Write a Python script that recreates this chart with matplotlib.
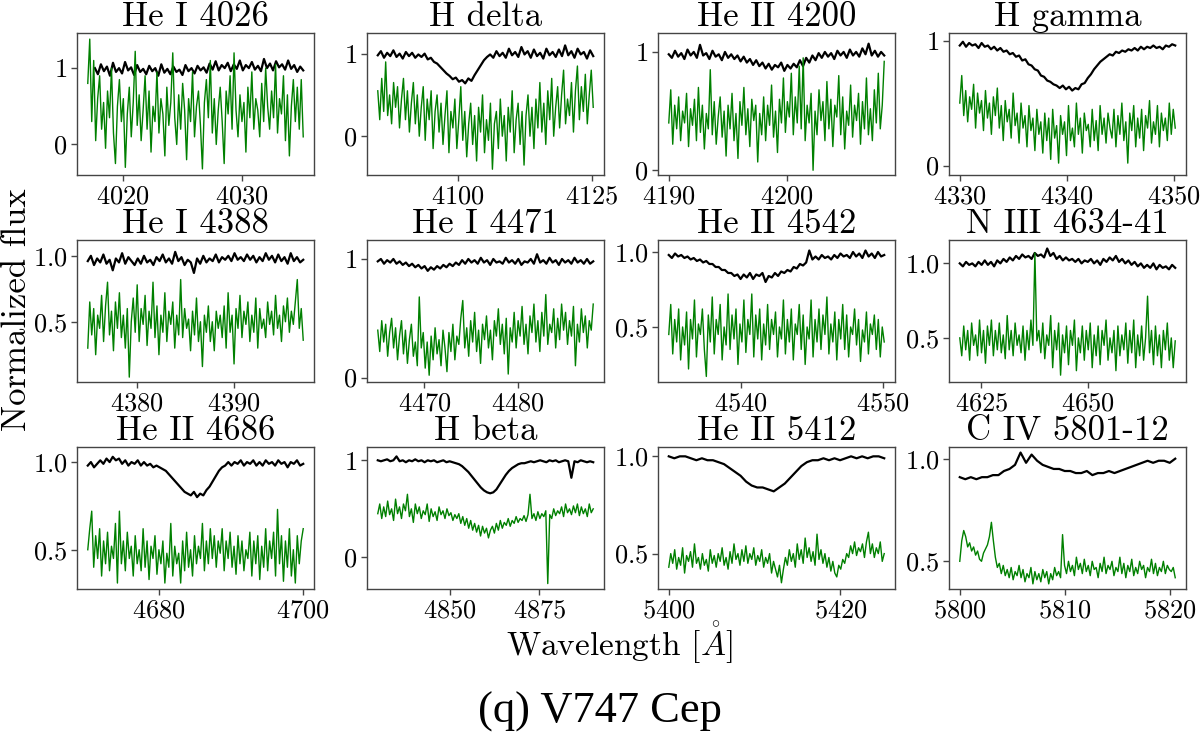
import numpy as np
import matplotlib
matplotlib.use("Agg")
import matplotlib.pyplot as plt
from matplotlib.ticker import MultipleLocator

plt.rcParams['font.family'] = ['cmr10', 'DejaVu Serif']
plt.rcParams['mathtext.fontset'] = 'cm'
plt.rcParams['axes.unicode_minus'] = False
plt.rcParams['axes.formatter.use_mathtext'] = True

titles = ["He I 4026", "H delta", "He II 4200", "H gamma",
          "He I 4388", "He I 4471", "He II 4542", "N III 4634-41",
          "He II 4686", "H beta", "He II 5412", "C IV 5801-12"]

wl_start = [4017.0, 4085.0, 4190.0, 4330.0, 4374.9, 4465.0, 4534.9, 4619.9, 4670.1, 4829.9, 5400.0, 5800.0]
wl_start_black = [4017.6, 4085.0, 4190.0, 4330.0, 4374.9, 4465.0, 4534.9, 4619.9, 4670.1, 4829.9, 5400.0, 5800.0]
wl_end = [4035.2, 4125.2, 4208.2, 4350.1, 4397.1, 4488.1, 4550.1, 4670.5, 4700.0, 4890.0, 5425.1, 5820.5]

black_1 = [1.00, 0.92, 1.05, 0.96, 1.02, 0.90, 1.07, 0.95, 1.00, 0.93,
           1.08, 0.97, 1.01, 0.91, 1.04, 0.95, 0.99, 0.92, 1.03, 0.96,
           1.00, 0.90, 1.05, 0.94, 0.99, 0.92, 1.02, 0.95, 0.98, 0.91,
           1.04, 0.96, 1.00, 0.93, 1.03, 0.97, 1.01, 0.94, 1.06, 0.98,
           1.09, 0.97, 1.04, 1.00, 1.07, 0.96, 1.05, 0.99, 1.10, 0.97,
           1.04, 1.00, 1.08, 0.98, 1.03, 0.96, 1.12, 1.00, 1.06, 0.97,
           1.09, 1.01, 1.05, 0.98, 1.10, 0.99, 1.04, 0.95, 1.02, 0.97]
green_1 = [0.80, 1.38, 0.30, 1.10, 0.05, 0.60, 0.90, 0.20, 0.55, -0.05,
           0.70, 0.35, 1.00, 0.15, -0.25, 0.50, 0.85, 0.30, 0.60, -0.30,
           0.40, 0.75, 0.10, 0.55, 1.22, 0.25, 0.65, 0.05, 0.45, 0.90,
           0.20, 0.70, -0.10, 0.50, 0.30, 0.95, 0.15, 0.60, 0.40, -0.15,
           0.75, 0.25, 0.55, 1.20, 0.35, 0.00, 0.65, 0.20, 0.80, 0.45,
           -0.20, 0.60, 0.30, 0.95, 0.10, 0.50, 0.70, 0.25, -0.32, 0.55,
           0.85, 0.35, 1.10, 0.15, 0.60, 0.00, 0.45, 0.75, 0.30, -0.25,
           0.70, 0.40, 0.90, 0.20, 1.20, 0.45, 0.10, 0.65, 0.30, 0.55,
           -0.10, 0.75, 0.35, 0.95, 0.20, 0.60, 0.45, 0.10, 0.80, 0.30,
           1.00, 0.50, 0.20, 0.70, 0.35, 1.05, 0.15, 0.60, 0.40, 0.90,
           0.05, 0.65, -0.15, 0.50, 0.85, 0.30, 0.75, 0.20, 0.85, 0.10]

black_2 = [0.98, 1.03, 0.95, 1.01, 0.97, 1.04, 0.96, 1.00, 0.94, 1.02,
           0.97, 1.01, 0.95, 0.99, 0.96, 1.00, 0.93, 0.95, 0.90, 0.88,
           0.84, 0.80, 0.76, 0.73, 0.69, 0.71, 0.66, 0.68, 0.64, 0.70,
           0.67, 0.74, 0.80, 0.86, 0.92, 0.96, 0.99, 0.95, 1.03, 0.97,
           1.01, 0.95, 1.06, 0.98, 1.02, 0.96, 1.08, 0.99, 1.03, 0.95,
           1.05, 0.97, 1.01, 0.94, 1.06, 0.98, 1.02, 0.96, 1.05, 0.97,
           1.10, 0.98, 1.03, 0.95, 1.06, 0.99, 1.02, 0.94, 1.04, 0.97]
green_2 = [0.55, 0.20, 0.70, 0.30, 0.90, 0.25, 0.50, 0.15, 0.65, 0.35,
           0.60, 0.10, 0.45, 0.70, 0.20, 0.55, 0.05, 0.40, 0.65, 0.15,
           0.50, 0.00, 0.35, 0.60, -0.05, 0.45, 0.20, 0.55, -0.15, 0.30,
           0.50, 0.05, 0.40, -0.10, 0.25, 0.55, -0.20, 0.30, 0.10, 0.45,
           -0.15, 0.20, 0.60, -0.05, 0.30, -0.25, 0.15, 0.40, -0.10, 0.25,
           -0.30, 0.35, 0.05, 0.50, -0.20, 0.20, -0.05, 0.40, -0.40, 0.15,
           0.30, -0.15, 0.45, 0.00, 0.25, -0.30, 0.35, 0.05, 0.55, -0.20,
           0.20, 0.40, -0.10, 0.30, -0.35, 0.25, 0.50, 0.00, 0.35, -0.15,
           0.45, 0.10, 0.65, 0.05, 0.40, -0.10, 0.55, 0.20, 0.70, 0.00,
           0.35, 0.60, 0.10, 0.50, 0.80, 0.15, 0.45, 0.25, 0.65, 0.05,
           0.55, 0.85, 0.20, 0.60, 0.30, 0.75, 0.15, 0.50, 0.80, 0.35]

black_3 = [0.98, 0.95, 1.01, 0.96, 0.99, 0.94, 1.02, 0.97, 1.00, 0.95,
           1.06, 0.97, 0.99, 0.94, 1.01, 0.96, 0.98, 0.93, 1.00, 0.95,
           0.98, 0.94, 0.97, 0.92, 0.96, 0.91, 0.94, 0.89, 0.93, 0.88,
           0.91, 0.86, 0.90, 0.85, 0.89, 0.87, 0.91, 0.84, 0.89, 0.86,
           0.90, 0.87, 0.93, 0.88, 0.95, 0.91, 0.97, 0.93, 0.99, 0.95,
           1.00, 0.96, 0.99, 0.94, 1.01, 0.97, 1.00, 0.95, 1.02, 0.97,
           1.00, 0.96, 1.03, 0.98, 1.07, 0.97, 1.01, 0.96, 1.00, 0.97]
green_3 = [0.40, 0.68, 0.22, 0.55, 0.35, 0.62, 0.25, 0.50, 0.40, 0.65,
           0.20, 0.52, 0.38, 0.60, 0.25, 0.70, 0.32, 0.55, 0.18, 0.48,
           0.35, 0.85, 0.30, 0.58, 0.22, 0.45, 0.62, 0.28, 0.50, 0.12,
           0.55, 0.35, 0.65, 0.25, 0.48, 0.10, 0.58, 0.38, 0.70, 0.30,
           0.52, 0.20, 0.60, 0.42, 0.55, 0.07, 0.48, 0.30, 0.62, 0.25,
           0.55, 0.38, 0.72, 0.28, 0.50, 0.15, 0.60, 0.40, 0.78, 0.32,
           0.58, 0.45, 0.82, 0.30, 0.62, 0.40, 0.88, 0.35, 0.95, 0.25,
           0.55, 0.40, 0.65, 0.00, 0.50, 0.30, 0.68, 0.42, 0.58, 0.25,
           0.75, 0.35, 0.60, 0.20, 0.55, 0.45, 0.80, 0.30, 0.62, 0.18,
           0.50, 0.38, 0.72, 0.28, 0.55, 0.42, 0.65, 0.22, 0.58, 0.35,
           0.78, 0.30, 0.52, 0.25, 0.68, 0.40, 0.82, 0.35, 0.55, 0.92]

black_4 = [0.96, 0.99, 0.95, 0.98, 0.96, 0.97, 0.94, 0.98, 0.95, 0.96,
           0.93, 0.95, 0.92, 0.94, 0.91, 0.92, 0.89, 0.90, 0.87, 0.88,
           0.84, 0.85, 0.81, 0.80, 0.77, 0.76, 0.72, 0.71, 0.68, 0.67,
           0.65, 0.64, 0.62, 0.64, 0.61, 0.63, 0.60, 0.62, 0.61, 0.65,
           0.66, 0.70, 0.73, 0.77, 0.80, 0.83, 0.85, 0.87, 0.89, 0.88,
           0.91, 0.90, 0.92, 0.91, 0.93, 0.92, 0.94, 0.92, 0.95, 0.93,
           0.95, 0.94, 0.96, 0.94, 0.95, 0.93, 0.96, 0.95, 0.97, 0.96]
green_4 = [0.50, 0.72, 0.40, 0.60, 0.35, 0.55, 0.45, 0.65, 0.30, 0.58,
           0.42, 0.52, 0.28, 0.60, 0.38, 0.50, 0.25, 0.55, 0.40, 0.62,
           0.30, 0.48, 0.20, 0.52, 0.35, 0.45, 0.22, 0.58, 0.32, 0.42,
           0.18, 0.50, 0.30, 0.40, 0.15, 0.48, 0.28, 0.38, 0.12, 0.45,
           0.25, 0.35, 0.10, 0.42, 0.20, 0.38, 0.05, 0.45, 0.22, 0.32,
           0.02, 0.40, 0.25, 0.35, 0.08, 0.48, 0.20, 0.30, 0.15, 0.50,
           0.25, 0.38, 0.10, 0.42, 0.28, 0.33, 0.15, 0.45, 0.20, 0.36,
           0.12, 0.48, 0.25, 0.38, 0.18, 0.42, 0.30, 0.22, 0.45, 0.15,
           0.40, 0.25, 0.50, 0.20, 0.35, 0.02, 0.42, 0.28, 0.48, 0.15,
           0.38, 0.22, 0.45, 0.12, 0.40, 0.30, 0.52, 0.18, 0.35, 0.25,
           0.48, 0.15, 0.42, 0.28, 0.38, 0.20, 0.50, 0.25, 0.45, 0.30]

black_5 = [0.96, 1.00, 0.93, 0.98, 0.95, 1.01, 0.94, 0.97, 0.89, 0.98,
           0.95, 1.02, 0.94, 0.99, 0.96, 0.93, 0.98, 0.94, 1.00, 0.95,
           0.97, 0.93, 0.99, 0.96, 1.01, 0.95, 0.98, 0.94, 1.03, 0.96,
           0.99, 0.93, 0.97, 0.95, 0.87, 0.98, 0.94, 1.00, 0.95, 0.98,
           0.96, 1.01, 0.95, 0.99, 0.97, 1.00, 0.96, 1.02, 0.97, 0.99,
           0.96, 1.01, 0.97, 1.00, 0.95, 0.99, 0.96, 1.02, 0.97, 1.00,
           0.95, 1.01, 0.96, 0.99, 0.94, 1.02, 0.96, 0.99, 0.95, 0.97]
green_5 = [0.30, 0.65, 0.40, 0.60, 0.25, 0.55, 0.45, 0.70, 0.35, 0.62,
           0.80, 0.40, 0.58, 0.28, 0.65, 0.45, 0.72, 0.38, 0.55, 0.30,
           0.60, 0.08, 0.50, 0.68, 0.42, 0.78, 0.35, 0.60, 0.48, 0.70,
           0.32, 0.58, 0.45, 0.80, 0.38, 0.62, 0.25, 0.55, 0.42, 0.72,
           0.35, 0.58, 0.48, 0.65, 0.30, 0.55, 0.40, 0.82, 0.38, 0.60,
           0.45, 0.52, 0.28, 0.58, 0.40, 0.68, 0.35, 0.50, 0.16, 0.55,
           0.42, 0.62, 0.35, 0.50, 0.28, 0.58, 0.45, 0.55, 0.38, 0.62,
           0.30, 0.72, 0.42, 0.55, 0.18, 0.60, 0.45, 0.70, 0.38, 0.58,
           0.48, 0.65, 0.35, 0.55, 0.42, 0.68, 0.30, 0.60, 0.45, 0.52,
           0.38, 0.65, 0.48, 0.58, 0.40, 0.70, 0.45, 0.55, 0.35, 0.62,
           0.50, 0.68, 0.42, 0.58, 0.48, 0.65, 0.82, 0.45, 0.60, 0.36]

black_6 = [0.98, 1.00, 0.96, 0.99, 0.97, 1.00, 0.96, 0.98, 0.95, 0.97,
           0.94, 0.96, 0.93, 0.95, 0.92, 0.94, 0.90, 0.93, 0.91, 0.94,
           0.92, 0.95, 0.93, 0.96, 0.94, 0.97, 0.95, 0.99, 0.96, 1.00,
           0.97, 0.99, 0.96, 1.01, 0.97, 0.99, 0.95, 1.00, 0.97, 0.98,
           0.96, 1.01, 0.97, 0.99, 0.96, 1.00, 0.95, 0.98, 0.97, 1.00,
           0.96, 1.04, 0.97, 0.99, 0.96, 1.01, 0.97, 0.99, 0.95, 1.00,
           0.97, 0.99, 0.96, 1.01, 0.97, 0.99, 0.96, 1.00, 0.96, 0.98]
green_6 = [0.40, 0.22, 0.48, 0.30, 0.45, 0.18, 0.38, 0.50, 0.25, 0.42,
           0.15, 0.35, 0.48, 0.20, 0.40, 0.12, 0.32, 0.45, 0.18, 0.30,
           0.10, 0.68, 0.25, 0.38, 0.08, 0.30, 0.02, 0.35, 0.15, 0.42,
           0.20, 0.32, 0.10, 0.40, 0.25, 0.05, 0.38, 0.22, 0.45, 0.15,
           0.35, 0.28, 0.50, 0.65, 0.25, 0.42, 0.18, 0.48, 0.30, 0.55,
           0.22, 0.40, 0.12, 0.45, 0.32, 0.52, 0.25, 0.40, 0.15, 0.48,
           0.35, 0.58, 0.28, 0.45, 0.20, 0.50, 0.03, 0.42, 0.30, 0.55,
           0.25, 0.48, 0.35, 0.60, 0.28, 0.45, 0.20, 0.52, 0.38, 0.62,
           0.30, 0.48, 0.22, 0.55, 0.35, 0.70, 0.28, 0.45, 0.38, 0.58,
           0.25, 0.50, 0.32, 0.62, 0.40, 0.55, 0.28, 0.48, 0.35, 0.60,
           0.10, 0.45, 0.30, 0.58, 0.38, 0.52, 0.25, 0.48, 0.40, 0.62]

black_7 = [0.98, 0.96, 0.99, 0.97, 0.98, 0.96, 0.97, 0.95, 0.96, 0.94,
           0.95, 0.93, 0.94, 0.92, 0.92, 0.90, 0.90, 0.88, 0.88, 0.86,
           0.86, 0.84, 0.85, 0.82, 0.85, 0.83, 0.86, 0.82, 0.85, 0.84,
           0.86, 0.80, 0.84, 0.83, 0.86, 0.84, 0.87, 0.86, 0.88, 0.87,
           0.90, 0.89, 0.92, 0.91, 0.93, 1.01, 0.95, 0.97, 0.95, 0.98,
           0.96, 0.97, 0.95, 0.98, 0.96, 0.99, 0.97, 0.98, 0.96, 1.00,
           0.97, 0.99, 0.96, 1.01, 0.97, 0.99, 0.96, 1.00, 0.97, 0.98]
green_7 = [0.45, 0.65, 0.32, 0.55, 0.40, 0.62, 0.28, 0.50, 0.38, 0.60,
           0.22, 0.55, 0.42, 0.68, 0.30, 0.52, 0.45, 0.62, 0.35, 0.17,
           0.58, 0.40, 0.70, 0.32, 0.55, 0.45, 0.65, 0.28, 0.50, 0.38,
           0.72, 0.35, 0.58, 0.42, 0.62, 0.25, 0.52, 0.40, 0.68, 0.33,
           0.55, 0.45, 0.72, 0.30, 0.58, 0.42, 0.62, 0.28, 0.52, 0.38,
           0.65, 0.35, 0.55, 0.45, 0.60, 0.30, 0.50, 0.42, 0.68, 0.32,
           0.55, 0.40, 0.62, 0.28, 0.52, 0.45, 0.65, 0.35, 0.58, 0.25,
           0.50, 0.42, 0.68, 0.30, 0.55, 0.40, 0.62, 0.35, 0.58, 0.45,
           0.70, 0.32, 0.52, 0.40, 0.60, 0.28, 0.55, 0.42, 0.65, 0.35,
           0.58, 0.30, 0.50, 0.45, 0.62, 0.38, 0.55, 0.27, 0.48, 0.40,
           0.60, 0.32, 0.52, 0.45, 0.58, 0.35, 0.55, 0.30, 0.50, 0.40]

black_8 = [1.00, 0.98, 1.01, 0.99, 1.00, 0.98, 1.01, 0.99, 1.02, 0.99,
           1.01, 0.98, 1.02, 1.00, 1.03, 1.01, 1.04, 1.02, 1.05, 1.03,
           1.06, 1.04, 1.05, 1.03, 1.07, 1.05, 1.06, 1.04, 1.10, 1.05,
           1.07, 1.03, 1.05, 1.02, 1.04, 1.02, 1.03, 1.01, 1.03, 1.00,
           1.02, 1.01, 1.03, 1.00, 1.02, 0.99, 1.03, 1.01, 1.04, 1.02,
           1.05, 1.01, 1.03, 1.00, 1.02, 0.99, 1.01, 0.98, 1.00, 0.97,
           0.99, 0.97, 1.00, 0.96, 0.99, 0.97, 0.98, 0.96, 0.99, 0.97]
green_8 = [0.50, 0.38, 0.58, 0.42, 0.55, 0.35, 0.60, 0.45, 0.52, 0.38,
           0.62, 0.40, 0.55, 0.33, 0.58, 0.45, 0.62, 0.38, 0.55, 0.42,
           0.60, 0.40, 0.52, 0.36, 0.65, 0.42, 0.55, 0.38, 0.60, 0.45,
           0.52, 0.40, 0.58, 0.35, 0.55, 0.42, 0.62, 0.45, 1.07, 0.48,
           0.55, 0.40, 0.60, 0.36, 0.52, 0.45, 0.65, 0.30, 0.55, 0.42,
           0.60, 0.25, 0.52, 0.40, 0.58, 0.32, 0.55, 0.45, 0.62, 0.28,
           0.50, 0.40, 0.58, 0.35, 0.55, 0.42, 0.60, 0.30, 0.52, 0.38,
           0.58, 0.32, 0.55, 0.45, 0.62, 0.35, 0.50, 0.40, 0.55, 0.28,
           0.58, 0.38, 0.52, 0.42, 0.60, 0.33, 0.55, 0.40, 0.62, 0.30,
           0.52, 0.38, 0.58, 0.35, 0.50, 0.78, 0.40, 0.55, 0.32, 0.58,
           0.38, 0.52, 0.30, 0.55, 0.42, 0.60, 0.35, 0.50, 0.30, 0.48]

black_9 = [0.98, 1.00, 0.97, 0.99, 1.01, 0.99, 1.02, 1.00, 1.03, 1.01,
           1.02, 0.99, 1.01, 0.98, 1.00, 0.99, 1.01, 0.98, 1.00, 0.98,
           0.99, 0.97, 0.98, 0.97, 0.96, 0.95, 0.93, 0.91, 0.89, 0.87,
           0.85, 0.83, 0.82, 0.81, 0.83, 0.80, 0.82, 0.81, 0.84, 0.86,
           0.89, 0.92, 0.95, 0.97, 0.98, 1.00, 0.98, 1.00, 0.99, 1.01,
           0.98, 1.00, 0.99, 1.01, 0.98, 1.00, 0.98, 1.01, 0.99, 1.00,
           0.98, 1.01, 0.99, 1.00, 0.97, 1.00, 0.99, 1.01, 0.98, 0.99]
green_9 = [0.50, 0.62, 0.72, 0.40, 0.58, 0.45, 0.62, 0.35, 0.55, 0.42,
           0.60, 0.38, 0.52, 0.45, 0.65, 0.31, 0.72, 0.42, 0.55, 0.38,
           0.60, 0.45, 0.52, 0.35, 0.58, 0.42, 0.50, 0.38, 0.62, 0.40,
           0.55, 0.33, 0.52, 0.45, 0.58, 0.36, 0.50, 0.42, 0.55, 0.31,
           0.48, 0.40, 0.65, 0.35, 0.52, 0.42, 0.48, 0.31, 0.55, 0.38,
           0.60, 0.40, 0.50, 0.35, 0.58, 0.42, 0.52, 0.45, 0.65, 0.38,
           0.55, 0.42, 0.62, 0.45, 0.58, 0.40, 0.55, 0.48, 0.62, 0.38,
           0.55, 0.45, 0.60, 0.40, 0.52, 0.36, 0.58, 0.42, 0.55, 0.38,
           0.50, 0.45, 0.60, 0.35, 0.55, 0.42, 0.58, 0.33, 0.52, 0.40,
           0.62, 0.38, 0.55, 0.45, 0.60, 0.35, 0.73, 0.42, 0.58, 0.32,
           0.55, 0.40, 0.62, 0.35, 0.50, 0.31, 0.58, 0.42, 0.55, 0.62]

black_10 = [1.00, 0.99, 1.00, 1.01, 0.99, 1.00, 1.04, 0.99, 1.00, 0.98,
            1.00, 0.99, 1.01, 0.99, 1.00, 0.98, 1.00, 0.99, 1.00, 0.98,
            0.99, 1.00, 0.98, 0.99, 0.98, 0.97, 0.96, 0.94, 0.91, 0.88,
            0.84, 0.80, 0.76, 0.72, 0.69, 0.67, 0.66, 0.67, 0.70, 0.75,
            0.80, 0.85, 0.89, 0.92, 0.94, 0.96, 0.97, 0.97, 0.98, 0.99,
            0.98, 0.99, 1.00, 0.99, 0.98, 1.00, 0.99, 1.00, 0.98, 0.99,
            1.00, 0.99, 0.82, 0.99, 0.98, 1.00, 0.99, 0.98, 0.99, 0.98]
green_10 = [0.45, 0.55, 0.40, 0.52, 0.42, 0.58, 0.44, 0.50, 0.38, 0.60,
            0.45, 0.52, 0.40, 0.55, 0.48, 0.65, 0.42, 0.50, 0.36, 0.55,
            0.45, 0.52, 0.40, 0.48, 0.44, 0.55, 0.37, 0.50, 0.42, 0.47,
            0.38, 0.52, 0.44, 0.48, 0.40, 0.50, 0.43, 0.46, 0.38, 0.44,
            0.40, 0.45, 0.35, 0.42, 0.33, 0.40, 0.30, 0.38, 0.28, 0.35,
            0.26, 0.33, 0.22, 0.32, 0.25, 0.30, 0.20, 0.28, 0.32, 0.25,
            0.35, 0.28, 0.38, 0.30, 0.36, 0.33, 0.40, 0.32, 0.38, 0.35,
            0.42, 0.36, 0.40, 0.38, 0.43, 0.37, 0.44, 0.65, 0.40, 0.45,
            0.38, 0.47, 0.40, 0.45, 0.42, 0.48, -0.27, 0.44, 0.40, 0.50,
            0.43, 0.48, 0.45, 0.52, 0.42, 0.55, 0.46, 0.50, 0.44, 0.53,
            0.46, 0.55, 0.43, 0.52, 0.45, 0.50, 0.42, 0.55, 0.46, 0.50]

black_11 = [1.00, 0.99, 1.00, 1.00, 0.99, 0.98, 0.99, 0.98, 0.98, 0.97,
            0.96, 0.94, 0.92, 0.90, 0.87, 0.85, 0.84, 0.84, 0.83, 0.82,
            0.84, 0.86, 0.89, 0.92, 0.95, 0.97, 0.98, 0.98, 0.99, 0.98,
            0.99, 0.98, 0.99, 1.00, 0.99, 1.00, 0.99, 1.00, 1.00, 0.99]
green_11 = [0.43, 0.50, 0.45, 0.52, 0.42, 0.48, 0.44, 0.53, 0.40, 0.49,
            0.46, 0.51, 0.43, 0.55, 0.45, 0.48, 0.42, 0.50, 0.44, 0.47,
            0.41, 0.52, 0.45, 0.49, 0.43, 0.50, 0.46, 0.53, 0.44, 0.48,
            0.42, 0.51, 0.45, 0.55, 0.47, 0.50, 0.44, 0.52, 0.46, 0.54,
            0.45, 0.50, 0.47, 0.53, 0.44, 0.49, 0.46, 0.52, 0.43, 0.48,
            0.45, 0.50, 0.40, 0.46, 0.42, 0.38, 0.44, 0.35, 0.42, 0.48,
            0.44, 0.52, 0.46, 0.50, 0.43, 0.55, 0.47, 0.52, 0.45, 0.58,
            0.48, 0.53, 0.46, 0.51, 0.44, 0.60, 0.47, 0.52, 0.45, 0.50,
            0.43, 0.48, 0.41, 0.46, 0.40, 0.38, 0.44, 0.42, 0.47, 0.45,
            0.50, 0.48, 0.54, 0.50, 0.56, 0.49, 0.53, 0.51, 0.55, 0.48,
            0.56, 0.61, 0.50, 0.55, 0.48, 0.53, 0.50, 0.56, 0.46, 0.50]

black_12 = [0.91, 0.90, 0.91, 0.90, 0.91, 0.91, 0.92, 0.92, 0.94, 0.95,
            0.97, 1.03, 0.98, 1.02, 0.99, 0.97, 0.96, 0.95, 0.95, 0.94,
            0.94, 0.93, 0.93, 0.94, 0.92, 0.93, 0.93, 0.94, 0.93, 0.94,
            0.95, 0.96, 0.97, 0.98, 0.99, 0.98, 0.99, 0.99, 0.98, 1.00]
green_12 = [0.50, 0.60, 0.65, 0.62, 0.57, 0.59, 0.55, 0.57, 0.53, 0.55,
            0.51, 0.50, 0.54, 0.56, 0.58, 0.62, 0.69, 0.60, 0.52, 0.47,
            0.49, 0.44, 0.48, 0.43, 0.46, 0.42, 0.47, 0.41, 0.45, 0.43,
            0.48, 0.42, 0.46, 0.40, 0.44, 0.42, 0.47, 0.39, 0.45, 0.41,
            0.44, 0.40, 0.46, 0.42, 0.45, 0.39, 0.44, 0.41, 0.47, 0.43,
            0.45, 0.42, 0.63, 0.48, 0.44, 0.50, 0.45, 0.48, 0.43, 0.52,
            0.46, 0.49, 0.44, 0.51, 0.45, 0.48, 0.43, 0.50, 0.46, 0.47,
            0.42, 0.49, 0.45, 0.52, 0.44, 0.48, 0.46, 0.50, 0.43, 0.47,
            0.45, 0.52, 0.44, 0.49, 0.42, 0.48, 0.45, 0.51, 0.43, 0.47,
            0.44, 0.50, 0.46, 0.48, 0.42, 0.47, 0.45, 0.51, 0.44, 0.49,
            0.43, 0.47, 0.45, 0.50, 0.44, 0.48, 0.46, 0.45, 0.47, 0.42]

blacks = [black_1, black_2, black_3, black_4, black_5, black_6, black_7, black_8, black_9, black_10, black_11, black_12]
greens = [green_1, green_2, green_3, green_4, green_5, green_6, green_7, green_8, green_9, green_10, green_11, green_12]

x_tick_step = [10, 25, 10, 10, 10, 10, 10, 25, 20, 25, 20, 10]
y_tick_step = [1, 1, 1, 1, 0.5, 1, 0.5, 0.5, 0.5, 1, 0.5, 0.5]
y_limits = [(-0.40, 1.46), (-0.47, 1.25), (-0.04, 1.16), (-0.075, 1.06),
            (0.043, 1.12), (-0.037, 1.16), (0.133, 1.08), (0.204, 1.157),
            (0.276, 1.086), (-0.326, 1.137), (0.318, 1.048), (0.365, 1.057)]

W, H = 1200, 744
fig = plt.figure(figsize=(12, 7.44), dpi=100)

col_left = [77, 367, 658, 949]
row_top = [33, 240, 447]
pw, ph = 237, 142
spine_col = '#444444'

for i in range(12):
    r, c = divmod(i, 4)
    ax = fig.add_axes([col_left[c] / W, 1 - (row_top[r] + ph) / H, pw / W, ph / H])
    xb = np.linspace(wl_start_black[i], wl_end[i], len(blacks[i]))
    xg = np.linspace(wl_start[i], wl_end[i], len(greens[i]))
    ax.plot(xb, blacks[i], color='black', lw=1.6)
    ax.plot(xg, greens[i], color='green', lw=1.0)
    ax.set_xlim(wl_start[i] - 0.05 * (wl_end[i] - wl_start[i]),
                wl_end[i] + 0.05 * (wl_end[i] - wl_start[i]))
    ax.set_ylim(*y_limits[i])
    ax.xaxis.set_major_locator(MultipleLocator(x_tick_step[i]))
    ax.yaxis.set_major_locator(MultipleLocator(y_tick_step[i]))
    ax.set_title(titles[i], fontsize=25, pad=5)
    for s in ax.spines.values():
        s.set_color(spine_col)
        s.set_linewidth(1.0)
    ax.tick_params(axis='both', which='major', labelsize=19, direction='out',
                   length=4, width=1, color=spine_col, pad=3)

fig.text(17 / W, 1 - 310 / H, 'Normalized flux', rotation=90, fontsize=25,
         ha='center', va='center')
fig.text(619 / W, 1 - 643 / H, r'Wavelength [$\mathring{A}$]', fontsize=24,
         ha='center', va='center')
fig.text(600 / W, 1 - 712 / H, '(q) V747 Cep', fontsize=32, family='Liberation Serif',
         ha='center', va='center')

fig.savefig('out.png', dpi=100)
